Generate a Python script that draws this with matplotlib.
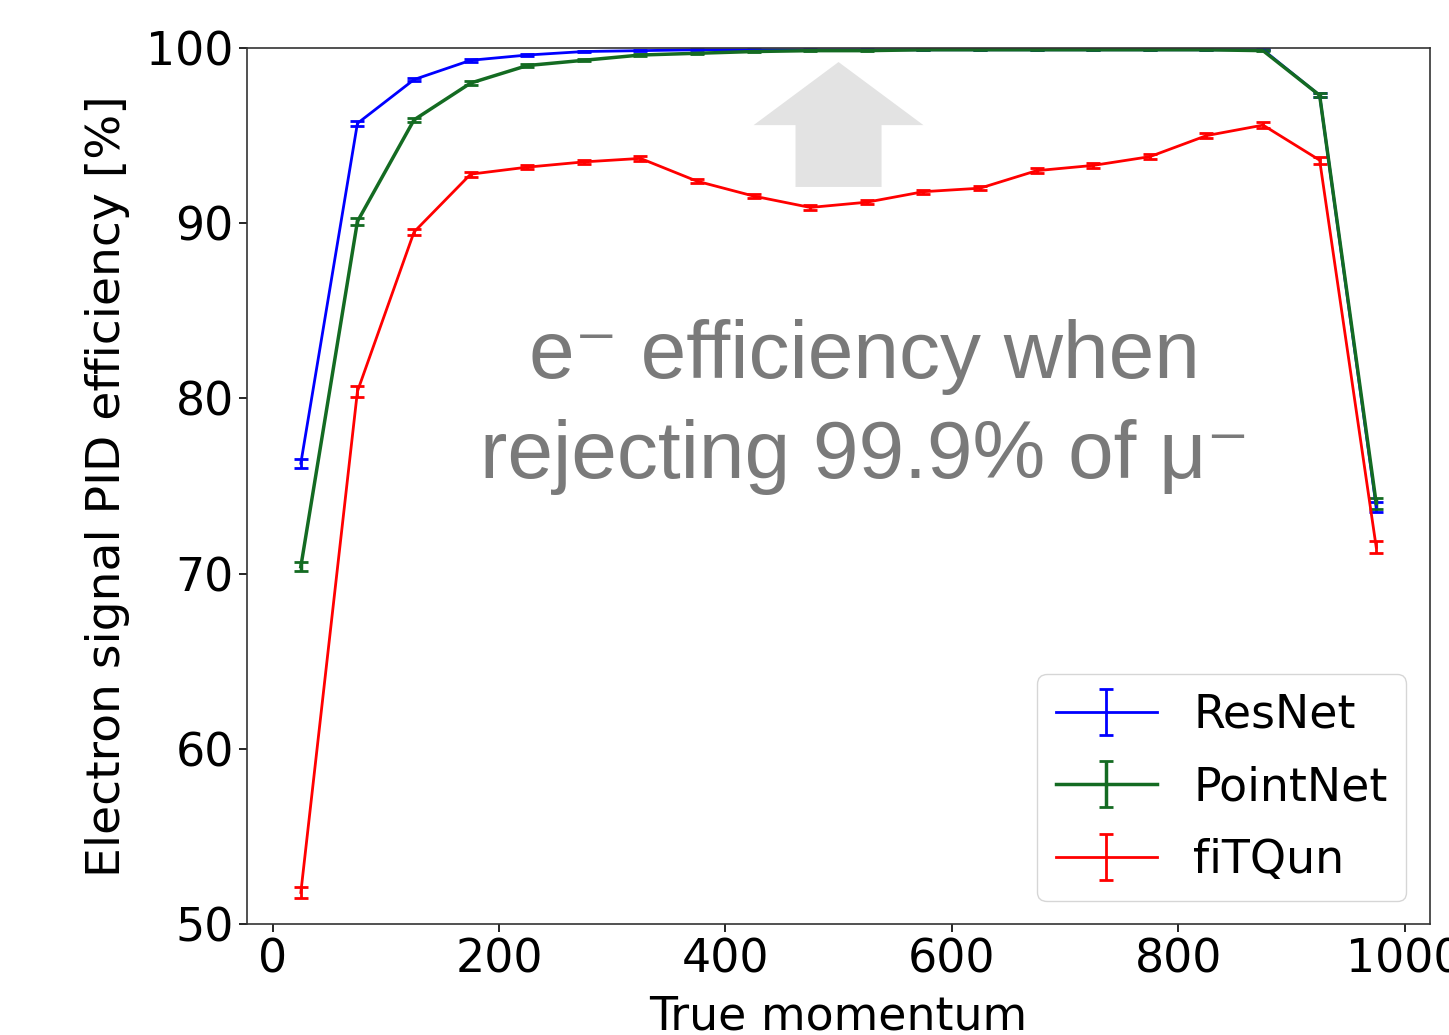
import numpy as np
import matplotlib.pyplot as plt
import matplotlib.patches as mpatches

# momentum bin centres
momentum = [25, 75, 125, 175, 225, 275, 325, 375, 425, 475,
            525, 575, 625, 675, 725, 775, 825, 875, 925, 975]

# electron signal efficiency [%] at 99.9% muon rejection
resnet_eff = [76.3, 95.7, 98.2, 99.3, 99.6, 99.8, 99.85, 99.9, 99.9, 99.9,
              99.9, 99.9, 99.9, 99.9, 99.9, 99.9, 99.9, 99.9, 97.3, 73.8]
resnet_err = [0.25, 0.15, 0.1, 0.08, 0.05, 0.04, 0.03, 0.03, 0.03, 0.03,
              0.03, 0.03, 0.03, 0.03, 0.03, 0.03, 0.03, 0.03, 0.12, 0.3]

pointnet_eff = [70.4, 90.1, 95.9, 98.0, 99.0, 99.3, 99.6, 99.7, 99.8, 99.85,
                99.85, 99.9, 99.9, 99.9, 99.9, 99.9, 99.9, 99.85, 97.3, 74.0]
pointnet_err = [0.25, 0.2, 0.12, 0.1, 0.06, 0.05, 0.04, 0.03, 0.03, 0.03,
                0.03, 0.03, 0.03, 0.03, 0.03, 0.03, 0.03, 0.03, 0.12, 0.3]

fitqun_eff = [51.8, 80.4, 89.5, 92.8, 93.2, 93.5, 93.7, 92.4, 91.55, 90.9,
              91.2, 91.8, 92.0, 93.0, 93.3, 93.8, 95.0, 95.6, 93.6, 71.5]
fitqun_err = [0.3, 0.3, 0.15, 0.15, 0.12, 0.12, 0.12, 0.12, 0.12, 0.12,
              0.12, 0.12, 0.12, 0.15, 0.15, 0.15, 0.15, 0.15, 0.2, 0.35]

plt.rcParams['font.size'] = 33

fig = plt.figure(figsize=(14.49, 10.35), dpi=100)
ax = fig.add_axes([0.1705, 0.1072, 0.8164, 0.8464])

# big grey arrow behind the curves
arrow = mpatches.FancyArrow(500, 92.07, 0, 7.13, width=76, head_width=150,
                            head_length=3.6, length_includes_head=True,
                            color='#e3e3e3', linewidth=0, zorder=0)
ax.add_patch(arrow)

ax.errorbar(momentum, resnet_eff, yerr=resnet_err, color='b', lw=2,
            capsize=5, capthick=2, label='ResNet')
ax.errorbar(momentum, pointnet_eff, yerr=pointnet_err, color='#146b22', lw=2.5,
            capsize=5, capthick=2, label='PointNet')
ax.errorbar(momentum, fitqun_eff, yerr=fitqun_err, color='r', lw=2,
            capsize=5, capthick=2, label='fiTQun')

ax.set_ylim(50, 100)
ax.set_xticks([0, 200, 400, 600, 800, 1000])
ax.set_yticks([50, 60, 70, 80, 90, 100])
ax.tick_params(length=6, width=1.2)
for s in ax.spines.values():
    s.set_linewidth(1.2)
    s.set_color('#333333')

ax.set_xlabel('True momentum', labelpad=9)
ax.set_ylabel('Electron signal PID efficiency [%]', fontsize=34, labelpad=12)

ax.text(0.522, 0.59, 'e\u207b efficiency when\nrejecting 99.9% of \u03bc\u207b',
        transform=ax.transAxes, ha='center', va='center', fontsize=59,
        color='#7a7a7a', linespacing=1.4,
        family=['Liberation Sans', 'DejaVu Sans'])

ax.legend(loc='lower right', fontsize=33, borderpad=0.4, handlelength=2.2,
          labelspacing=0.6, bbox_to_anchor=(0.999, 0.0))

plt.savefig('out.png', dpi=100)
